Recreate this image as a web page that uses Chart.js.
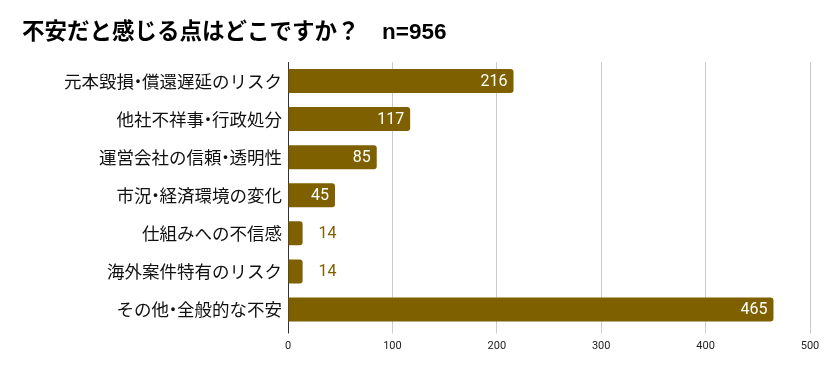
<!DOCTYPE html>
<html>
<head>
<meta charset="utf-8">
<script src="https://cdn.jsdelivr.net/npm/chart.js@4"></script>
<style>
html,body{margin:0;padding:0;background:#fff;}
#wrap{width:830px;height:371px;position:relative;}
</style>
</head>
<body>
<div id="wrap"><canvas id="c" width="830" height="371"></canvas></div>
<script>
const titleText = "不安だと感じる点はどこですか？　n=956";
const categories = [
  "元本毀損・償還遅延のリスク",
  "他社不祥事・行政処分",
  "運営会社の信頼・透明性",
  "市況・経済環境の変化",
  "仕組みへの不信感",
  "海外案件特有のリスク",
  "その他・全般的な不安"
];
const values = [216, 117, 85, 45, 14, 14, 465];
const xTicks = [0, 100, 200, 300, 400, 500];

const barColor = "#7f6000";
const cjk = "'Noto Sans CJK JP','Noto Sans',sans-serif";

const labelPlugin = {
  id: "barLabels",
  afterDatasetsDraw(chart) {
    const ctx = chart.ctx;
    const meta = chart.getDatasetMeta(0);
    ctx.save();
    ctx.font = "16px Roboto, 'Noto Sans', sans-serif";
    ctx.textBaseline = "middle";
    meta.data.forEach((bar, i) => {
      const v = values[i];
      const w = bar.x - bar.base;
      const txt = String(v);
      const tw = ctx.measureText(txt).width;
      if (w > tw + 14) {
        ctx.fillStyle = "#ffffff";
        ctx.textAlign = "right";
        ctx.fillText(txt, bar.x - 6, bar.y + 1);
      } else {
        ctx.fillStyle = barColor;
        ctx.textAlign = "left";
        ctx.fillText(txt, bar.x + 16, bar.y + 1);
      }
    });
    ctx.restore();
  }
};

// Category labels drawn with a proportional (narrow) middle dot, like the reference
const catLabelPlugin = {
  id: "catLabels",
  afterDraw(chart) {
    const ctx = chart.ctx;
    const yScale = chart.scales.y;
    const right = chart.chartArea.left - 6;
    const dotW = 8;
    ctx.save();
    ctx.font = "17.5px " + cjk;
    ctx.fillStyle = "#111";
    ctx.textBaseline = "middle";
    categories.forEach((lab, i) => {
      const y = yScale.getPixelForValue(i);
      const parts = lab.split("・");
      let total = 0;
      parts.forEach((p, k) => {
        total += ctx.measureText(p).width;
        if (k < parts.length - 1) total += dotW;
      });
      let x = right - total;
      parts.forEach((p, k) => {
        ctx.textAlign = "left";
        ctx.fillText(p, x, y);
        x += ctx.measureText(p).width;
        if (k < parts.length - 1) {
          ctx.textAlign = "center";
          ctx.fillText("・", x + dotW / 2, y);
          x += dotW;
        }
      });
    });
    ctx.restore();
  }
};

new Chart(document.getElementById("c"), {
  type: "bar",
  data: {
    labels: categories,
    datasets: [{
      data: values,
      backgroundColor: barColor,
      borderRadius: 3,
      borderSkipped: "start",
      barPercentage: 0.63,
      categoryPercentage: 1.0
    }]
  },
  options: {
    indexAxis: "y",
    responsive: false,
    animation: false,
    layout: { padding: { left: 22, right: 20, top: 0, bottom: 0 } },
    plugins: {
      legend: { display: false },
      tooltip: { enabled: false },
      title: {
        display: true,
        text: titleText,
        align: "start",
        color: "#000",
        font: { family: "'Liberation Sans'," + cjk, size: 22.5, weight: "bold", lineHeight: 1.2 },
        padding: { top: 19, bottom: 16 }
      }
    },
    scales: {
      x: {
        min: 0, max: 500,
        afterBuildTicks(scale) { scale.ticks = xTicks.map(v => ({ value: v })); },
        afterFit(scale) { scale.height = 42.5; },
        grid: {
          color: (c) => (c.tick && c.tick.value === 0) ? "#333333" : "#cccccc",
          lineWidth: 1,
          tickLength: 5,
          drawTicks: true
        },
        border: { display: false },
        ticks: { color: "#222", font: { family: "Roboto, 'Noto Sans', sans-serif", size: 11 }, padding: 6 }
      },
      y: {
        afterFit(scale) { scale.width = 266; },
        grid: { display: false },
        border: { display: false },
        ticks: { display: false }
      }
    }
  },
  plugins: [labelPlugin, catLabelPlugin]
});
</script>
</body>
</html>
